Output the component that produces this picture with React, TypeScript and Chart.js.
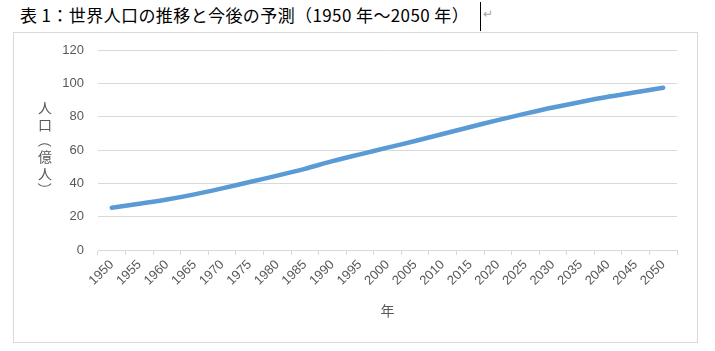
import React, { useEffect, useRef } from "react";
import { Chart, registerables } from "chart.js";

Chart.register(...registerables);

const years = ["1950","1955","1960","1965","1970","1975","1980","1985","1990","1995","2000","2005","2010","2015","2020","2025","2030","2035","2040","2045","2050"];
const population = [25.4, 27.7, 30.3, 33.4, 37.0, 40.8, 44.6, 48.7, 53.3, 57.4, 61.4, 65.4, 69.6, 73.8, 77.9, 81.8, 85.5, 88.8, 91.9, 94.6, 97.4];
const titleText = "表 1：世界人口の推移と今後の予測（1950 年～2050 年）";
const yTitleChars = ["人", "口", "（", "億", "人", "）"];
const xTitle = "年";

const CJK = '"Noto Sans CJK JP", "Noto Sans", sans-serif';
const LAT = '"Liberation Sans", Arial, sans-serif';

export default function App() {
  const ref = useRef<HTMLCanvasElement | null>(null);
  useEffect(() => {
    if (!ref.current) return;
    const yTitlePlugin = {
      id: "yTitleVertical",
      afterDraw(chart: any) {
        const ctx = chart.ctx;
        ctx.save();
        ctx.fillStyle = "#595959";
        ctx.font = `14px ${CJK}`;
        ctx.textAlign = "center";
        ctx.textBaseline = "middle";
        yTitleChars.forEach((c, i) => {
          const y = 75 + 16.3 * i;
          if (c === "（" || c === "）") {
            ctx.save();
            ctx.translate(31, y);
            ctx.rotate(Math.PI / 2);
            ctx.fillText(c, 0, 0);
            ctx.restore();
          } else {
            ctx.fillText(c, 31, y);
          }
        });
        ctx.restore();
      },
    };
    const chart = new Chart(ref.current, {
      type: "line",
      data: {
        labels: years,
        datasets: [
          {
            data: population,
            borderColor: "#5B9BD5",
            borderWidth: 4.5,
            pointRadius: 0,
            tension: 0.3,
            borderCapStyle: "round",
            fill: false,
          },
        ],
      },
      options: {
        responsive: false,
        animation: false,
        layout: { padding: { top: 17, right: 20, left: 0, bottom: 0 } },
        plugins: { legend: { display: false }, tooltip: { enabled: false } },
        scales: {
          x: {
            offset: true,
            afterFit(scale: any) {
              scale.height = 92;
            },
            grid: {
              display: true,
              drawOnChartArea: false,
              drawTicks: true,
              tickLength: 5,
              offset: true,
              color: "#d9d9d9",
            },
            border: { display: true, color: "#d9d9d9" },
            ticks: {
              autoSkip: false,
              maxRotation: 45,
              minRotation: 45,
              color: "#595959",
              font: { family: LAT, size: 13 },
              padding: 2,
            },
            title: {
              display: true,
              text: xTitle,
              color: "#595959",
              font: { family: CJK, size: 14 },
              padding: { top: 0, bottom: 22.6 },
            },
          },
          y: {
            min: 0,
            max: 120,
            afterFit(scale: any) {
              scale.width = 84;
              scale.paddingTop = 0;
              scale.paddingBottom = 0;
            },
            ticks: {
              stepSize: 20,
              color: "#595959",
              font: { family: LAT, size: 13 },
              padding: 14,
            },
            grid: { color: "#d9d9d9", drawTicks: false },
            border: { display: false },
          },
        },
      },
      plugins: [yTitlePlugin],
    } as any);
    return () => chart.destroy();
  }, []);

  return (
    <div style={{ position: "fixed", left: 0, top: 0, width: 715, height: 351, background: "#fff", overflow: "hidden" }}>
      <div
        style={{
          position: "absolute",
          left: 20,
          top: 6,
          fontFamily: CJK,
          fontSize: 17,
          lineHeight: "17px",
          letterSpacing: "0.4px",
          color: "#000",
          whiteSpace: "nowrap",
        }}
      >
        {titleText}
      </div>
      <div style={{ position: "absolute", left: 480, top: 2, width: 1, height: 29, background: "#000" }} />
      <div
        style={{
          position: "absolute",
          left: 483,
          top: 6,
          fontFamily: CJK,
          fontSize: 12,
          lineHeight: "14px",
          color: "#a6a6a6",
        }}
      >
        ↵
      </div>
      <div
        style={{
          position: "absolute",
          left: 13,
          top: 32,
          width: 683,
          height: 309,
          border: "1px solid #d9d9d9",
        }}
      >
        <canvas ref={ref} width={683} height={309} style={{ display: "block", width: 683, height: 309 }} />
      </div>
    </div>
  );
}
